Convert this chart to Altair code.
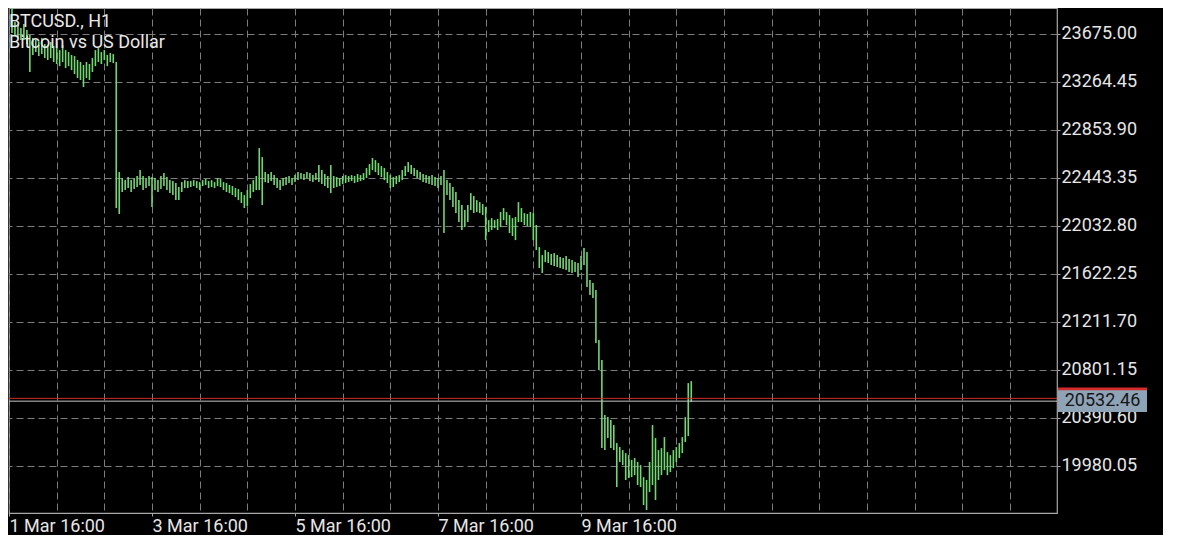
import json
import altair as alt
import pandas as pd

# ---- data ----
symbol_lines = ["BTCUSD., H1", "Bitcoin vs US Dollar"]
first_bar = "2023-03-01 17:00"   # hourly bars (H1)

high = [
    23920, 23775, 23749, 23724, 23758, 23706, 23664, 23638, 23621, 23604,
    23638, 23587, 23578, 23604, 23570, 23552, 23535, 23578, 23535, 23518,
    23493, 23484, 23450, 23433, 23407, 23433, 23416, 23467, 23535, 23552,
    23518, 23535, 23493, 23510, 23501, 23433, 22492, 22441, 22423, 22449,
    22423, 22441, 22458, 22509, 22458, 22441, 22458, 22449, 22441, 22423,
    22458, 22483, 22449, 22423, 22415, 22398, 22364, 22406, 22423, 22415,
    22415, 22423, 22415, 22406, 22423, 22432, 22415, 22423, 22406, 22441,
    22432, 22406, 22398, 22381, 22372, 22355, 22346, 22321, 22295, 22338,
    22389, 22423, 22458, 22697, 22620, 22492, 22475, 22492, 22466, 22441,
    22423, 22441, 22449, 22458, 22441, 22466, 22492, 22483, 22475, 22492,
    22483, 22466, 22483, 22552, 22509, 22475, 22458, 22552, 22458, 22449,
    22441, 22458, 22466, 22458, 22466, 22458, 22475, 22466, 22483, 22526,
    22560, 22612, 22594, 22569, 22543, 22526, 22492, 22466, 22449, 22458,
    22466, 22509, 22543, 22577, 22552, 22526, 22509, 22492, 22475, 22466,
    22458, 22466, 22449, 22441, 22458, 22509, 22423, 22398, 22364, 22321,
    22252, 22210, 22167, 22210, 22312, 22287, 22252, 22235, 22218, 22193,
    22081, 22098, 22081, 22090, 22150, 22184, 22150, 22124, 22098, 22107,
    22235, 22184, 22141, 22133, 22150, 22141, 22039, 21850, 21782, 21825,
    21808, 21791, 21799, 21782, 21765, 21756, 21773, 21748, 21739, 21722,
    21714, 21773, 21842, 21808, 21568, 21543, 21483, 21055, 20884, 20414,
    20396, 20371, 20328, 20174, 20140, 20114, 20088, 20071, 20029, 20046,
    20012, 19986, 19883, 19858, 20012, 20328, 20217, 20114, 20131, 20225,
    20097, 20071, 20114, 20140, 20174, 20225, 20396, 20687, 20704,
]
low = [
    23681, 23664, 23638, 23621, 23621, 23587, 23347, 23493, 23518, 23484,
    23501, 23467, 23450, 23467, 23433, 23416, 23398, 23433, 23381, 23398,
    23364, 23330, 23296, 23279, 23219, 23296, 23279, 23347, 23398, 23433,
    23416, 23450, 23398, 23433, 23424, 22184, 22133, 22321, 22338, 22355,
    22321, 22346, 22364, 22381, 22338, 22355, 22372, 22193, 22338, 22321,
    22346, 22372, 22338, 22312, 22295, 22252, 22252, 22321, 22355, 22355,
    22364, 22372, 22355, 22338, 22372, 22381, 22355, 22364, 22355, 22372,
    22364, 22338, 22321, 22312, 22295, 22278, 22252, 22227, 22184, 22201,
    22270, 22321, 22338, 22338, 22210, 22406, 22398, 22415, 22381, 22355,
    22338, 22372, 22381, 22398, 22381, 22406, 22423, 22432, 22423, 22441,
    22415, 22406, 22423, 22406, 22389, 22372, 22355, 22312, 22355, 22364,
    22372, 22389, 22398, 22406, 22415, 22398, 22406, 22415, 22423, 22441,
    22466, 22509, 22492, 22466, 22449, 22423, 22398, 22355, 22364, 22389,
    22406, 22423, 22458, 22492, 22475, 22458, 22441, 22423, 22406, 22398,
    22389, 22381, 22372, 22355, 22381, 21970, 22295, 22252, 22193, 22141,
    22064, 21996, 22021, 22064, 22167, 22141, 22150, 22141, 22124, 21910,
    21979, 21996, 22013, 21996, 22021, 22081, 22039, 21970, 21945, 21910,
    22064, 22064, 22039, 22030, 22021, 21910, 21825, 21671, 21628, 21722,
    21714, 21697, 21688, 21679, 21671, 21662, 21654, 21637, 21628, 21637,
    21594, 21654, 21697, 21508, 21440, 21414, 21029, 20798, 20131, 20114,
    20217, 20131, 20114, 19798, 20012, 19986, 19858, 19875, 19883, 19900,
    19815, 19798, 19644, 19601, 19755, 19815, 19687, 19858, 19900, 19943,
    19900, 19926, 19960, 20012, 20046, 20088, 20183, 20234, 20525,
]

bid_price = 20532.46
ask_price = 20556.50
y_ticks = [19980.05, 20390.60, 20801.15, 21211.70, 21622.25,
           22032.80, 22443.35, 22853.90, 23264.45, 23675.00]
x_tick_labels = ["1 Mar 16:00", "3 Mar 16:00", "5 Mar 16:00", "7 Mar 16:00", "9 Mar 16:00"]
x_start = "2023-03-01 16:00"
x_end = "2023-03-16 07:46"
y_domain = [19576, 23895]

# ---- styling ----
W, H = 1048, 505
FONT = "Roboto"
GREEN = "#72d672"
TEXT = "#e6e6e6"
GRID = "#7c7c7c"
FRAME = "#a8a8a8"

times = pd.date_range(first_bar, periods=len(high), freq="h")
bars_df = pd.DataFrame({
    "time": times.strftime("%Y-%m-%dT%H:%M:%S"),
    "high": high,
    "low": low,
})


def dt(ts):
    ts = pd.Timestamp(ts)
    return alt.DateTime(year=ts.year, month=ts.month, date=ts.day,
                        hours=ts.hour, minutes=ts.minute)


grid_times = [dt(t) for t in pd.date_range(x_start, x_end, freq="16h")]
fmt = "%-d %b %H:%M"
is_labeled = f"indexof({json.dumps(x_tick_labels)}, timeFormat(datum.value, '{fmt}')) >= 0"

x_enc = alt.X(
    "time:T",
    title=None,
    scale=alt.Scale(domain=[dt(x_start), dt(x_end)]),
    axis=alt.Axis(
        values=grid_times,
        labelExpr=f"{is_labeled} ? timeFormat(datum.value, '{fmt}') : ''",
        labelAlign="left",
        labelOverlap=False,
        labelFont=FONT,
        labelFontSize=18,
        labelColor=TEXT,
        labelPadding=1,
        tickSize=3,
        tickColor=FRAME,
        tickOpacity={"condition": {"test": is_labeled, "value": 1}, "value": 0},
        grid=True,
        gridColor=GRID,
        gridDash=[7, 4],
        domain=False,
    ),
)

y_scale = alt.Scale(domain=y_domain, nice=False, zero=False)

bars = alt.Chart(bars_df).mark_rule(color=GREEN, strokeWidth=1.6, clip=True).encode(
    x=x_enc,
    y=alt.Y(
        "low:Q",
        title=None,
        scale=y_scale,
        axis=alt.Axis(
            orient="right",
            values=y_ticks,
            format=".2f",
            labelFont=FONT,
            labelFontSize=18,
            labelColor=TEXT,
            labelPadding=1,
            tickSize=3,
            tickColor=FRAME,
            grid=True,
            gridColor=GRID,
            gridDash=[7, 4],
            domain=False,
        ),
    ),
    y2="high:Q",
)

ask_df = pd.DataFrame({"price": [ask_price]})
bid_df = pd.DataFrame({"price": [bid_price]})

ask_line = alt.Chart(ask_df).mark_rule(color="#d42a2a", strokeWidth=1).encode(
    y=alt.Y("price:Q", title=None, scale=y_scale))
bid_line = alt.Chart(bid_df).mark_rule(color="#c4c4c4", strokeWidth=1).encode(
    y=alt.Y("price:Q", title=None, scale=y_scale))

ask_box = alt.Chart(ask_df).mark_rule(color="#d42a2a", strokeWidth=21.6, strokeCap="butt").encode(
    x=alt.value(W + 1), x2=alt.value(W + 90), y=alt.Y("price:Q", title=None, scale=y_scale))
bid_box = alt.Chart(bid_df).mark_rule(color="#8fa3b6", strokeWidth=21.6, strokeCap="butt").encode(
    x=alt.value(W + 1), x2=alt.value(W + 90), y=alt.Y("price:Q", title=None, scale=y_scale))
bid_text = alt.Chart(bid_df).mark_text(
    font=FONT, fontSize=18, color="#161616", align="center", baseline="middle"
).encode(
    x=alt.value(W + 45.5),
    y=alt.Y("price:Q", title=None, scale=y_scale),
    text=alt.Text("price:Q", format=".2f"),
)

title_text = alt.Chart(pd.DataFrame({"k": [0]})).mark_text(
    align="left", baseline="alphabetic", font=FONT, fontSize=18, color="#e8e8e8", lineHeight=21
).encode(x=alt.value(0), y=alt.value(19), text=alt.value(symbol_lines))

chart = alt.layer(
    bars, bid_line, ask_line, ask_box, bid_box, bid_text, title_text
).properties(
    width=W,
    height=H,
    padding={"left": 0, "top": 0, "right": 5, "bottom": 0},
    background="#000000",
).configure_view(stroke=FRAME, strokeWidth=1.2)

chart.save("out.html", embed_options={"renderer": "svg", "actions": False})
